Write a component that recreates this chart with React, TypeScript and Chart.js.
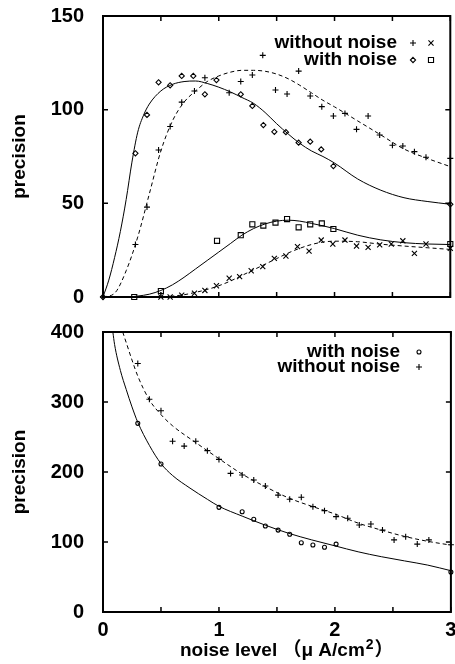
import React, { useEffect, useRef } from 'react';
import { Chart, registerables } from 'chart.js';

Chart.register(...registerables);

const FONT = '"Liberation Sans", Arial, Helvetica, "Noto Sans CJK JP", sans-serif';

// ---- axes ----
const xTickValues = [0, 0.5, 1, 1.5, 2, 2.5, 3];
const xTickLabels = ['0', '', '1', '', '2', '', '3'];
const topYTicks = [0, 50, 100, 150];
const bottomYTicks = [0, 100, 200, 300, 400];
const xTitleParts = ['noise level （μ A/cm', '2', '）'];
const yTitle = 'precision';

// ---- top panel: measured points ----
const topPlusX = [0, 0.28, 0.38, 0.48, 0.58, 0.68, 0.79, 0.88, 1.09, 1.19, 1.29, 1.38, 1.49, 1.59, 1.69, 1.79, 1.89, 1.99, 2.09, 2.19, 2.29, 2.39, 2.5, 2.59, 2.69, 2.79, 3.0];
const topPlusY = [0, 28, 48, 78.5, 91, 104, 110, 117, 109, 115, 118.5, 129, 110.5, 108.4, 120.6, 107.3, 101.6, 96.6, 98, 89.5, 96.6, 86.5, 81, 80.6, 77.6, 74.6, 74];

const topDiamondX = [0, 0.28, 0.38, 0.48, 0.58, 0.68, 0.78, 0.88, 0.98, 1.19, 1.29, 1.385, 1.48, 1.58, 1.69, 1.79, 1.885, 1.99, 3.0];
const topDiamondY = [0, 76.7, 97.2, 114.6, 113, 118, 118, 108.2, 115.8, 108.2, 102, 91.8, 88.2, 88, 82.4, 82.9, 78.8, 69.9, 49.5];

const topTimesX = [0.5, 0.58, 0.68, 0.79, 0.88, 0.98, 1.09, 1.18, 1.28, 1.38, 1.48, 1.58, 1.68, 1.78, 1.885, 1.985, 2.09, 2.19, 2.29, 2.39, 2.49, 2.59, 2.69, 2.79, 3.0];
const topTimesY = [0, 0, 1, 2, 3.5, 6, 10, 10.9, 14, 16.2, 20.6, 21.9, 26.9, 24.5, 30.4, 28.3, 30.4, 27.2, 26.5, 27.8, 28.3, 30, 23.3, 28.3, 26];

const topSquareX = [0.27, 0.5, 0.985, 1.19, 1.29, 1.385, 1.49, 1.59, 1.69, 1.79, 1.89, 1.99, 3.0];
const topSquareY = [0, 3.2, 30, 33, 38.8, 38.1, 39.7, 41.6, 37.2, 38.8, 39.3, 36.3, 28.3];

// ---- top panel: fitted curves ----
const topDashUpX = [0, 0.1, 0.2, 0.3, 0.4, 0.5, 0.6, 0.7, 0.8, 0.9, 1.0, 1.1, 1.2, 1.3, 1.4, 1.5, 1.6, 1.7, 1.8, 1.9, 2.0, 2.2, 2.4, 2.6, 2.8, 3.0];
const topDashUpY = [0, 2, 14, 32, 55, 78, 94, 104, 110, 115, 118, 120, 121, 121, 120.5, 119, 116.5, 113, 109, 105, 101.5, 94, 86.5, 79, 74, 69.6];

const topSolidUpX = [0, 0.05, 0.1, 0.15, 0.2, 0.25, 0.3, 0.35, 0.4, 0.5, 0.6, 0.7, 0.8, 0.9, 1.0, 1.1, 1.2, 1.3, 1.4, 1.5, 1.6, 1.7, 1.8, 1.9, 2.0, 2.2, 2.4, 2.6, 2.8, 3.0];
const topSolidUpY = [0, 9, 21, 35, 52, 72, 88, 97, 103, 110, 113.5, 115, 115.3, 114, 112, 109.5, 106.5, 103.4, 98.5, 92.5, 87, 82, 78, 75, 71.5, 63, 57, 53, 51, 49.5];

const topSolidLowX = [0, 0.2, 0.3, 0.4, 0.5, 0.6, 0.7, 0.8, 0.9, 1.0, 1.1, 1.2, 1.3, 1.4, 1.5, 1.6, 1.7, 1.8, 1.9, 2.0, 2.2, 2.4, 2.6, 2.8, 3.0];
const topSolidLowY = [0, 0, 0.5, 1.5, 3.5, 6.5, 10.5, 15, 19.5, 24, 28.5, 33, 36.5, 39, 40.5, 41, 40.5, 39.3, 38, 36.5, 33, 30.5, 29, 28.3, 28];

const topDashLowX = [0.4, 0.5, 0.6, 0.7, 0.8, 0.9, 1.0, 1.1, 1.2, 1.3, 1.4, 1.5, 1.6, 1.7, 1.8, 1.9, 2.0, 2.2, 2.4, 2.6, 2.8, 3.0];
const topDashLowY = [0, 0, 0.5, 1.2, 2.5, 4, 6, 8.5, 11.5, 14.5, 17.5, 20.5, 23.5, 26, 28, 29.3, 29.8, 29.5, 28.2, 27.2, 26.3, 25.4];

// ---- bottom panel ----
const botPlusX = [0.3, 0.4, 0.5, 0.6, 0.7, 0.8, 0.9, 1.0, 1.1, 1.2, 1.3, 1.4, 1.51, 1.61, 1.71, 1.81, 1.91, 2.01, 2.11, 2.21, 2.31, 2.41, 2.51, 2.61, 2.71, 2.81, 3.0];
const botPlusY = [355, 304, 287.6, 244, 237, 244, 230.5, 218, 198, 195.7, 188.6, 180, 167, 161, 164, 150.5, 144.8, 136.2, 134, 124.3, 125.7, 117, 103, 107.6, 97, 103, 96];

const botCircleX = [0.3, 0.5, 1.0, 1.2, 1.3, 1.4, 1.51, 1.61, 1.71, 1.81, 1.91, 2.01, 3.0];
const botCircleY = [269.5, 211.4, 149.5, 143.3, 132.4, 122.9, 117, 111, 99, 95.7, 92.4, 97, 57];

const botSolidX = [0.085, 0.1, 0.15, 0.2, 0.25, 0.3, 0.4, 0.5, 0.6, 0.75, 0.9, 1.0, 1.2, 1.4, 1.6, 1.8, 2.0, 2.2, 2.4, 2.6, 2.8, 3.0];
const botSolidY = [400, 382, 345, 318, 293, 271, 238, 212, 195, 177, 161, 151, 137, 124, 112.5, 103, 94.5, 86, 79, 73, 67, 59];

const botDashX = [0.17, 0.2, 0.25, 0.3, 0.4, 0.5, 0.6, 0.8, 1.0, 1.2, 1.4, 1.6, 1.8, 2.0, 2.2, 2.4, 2.6, 2.8, 3.0];
const botDashY = [400, 385, 360, 337, 303, 282, 266, 242, 219, 197, 179, 163, 151, 140, 127, 117, 108, 101, 95.5];

const pts = (xs: number[], ys: number[]) => xs.map((x, i) => ({ x, y: ys[i] }));

function curve(label: string, xs: number[], ys: number[], dashed: boolean) {
  return {
    label,
    data: pts(xs, ys),
    showLine: true,
    borderColor: '#000',
    borderWidth: 1,
    borderDash: dashed ? [4, 3] : [],
    pointRadius: 0,
    pointHoverRadius: 0,
    cubicInterpolationMode: 'monotone',
    fill: false,
  };
}

function marks(label: string, xs: number[], ys: number[], style: string, r: number) {
  return {
    label,
    data: pts(xs, ys),
    showLine: false,
    pointStyle: style,
    pointRadius: r,
    pointHoverRadius: r,
    pointBorderColor: '#000',
    pointBackgroundColor: 'rgba(0,0,0,0)',
    pointBorderWidth: 1.1,
    borderColor: '#000',
    backgroundColor: 'rgba(0,0,0,0)',
    clip: false,
  };
}

function drawMarker(ctx: CanvasRenderingContext2D, style: string, x: number, y: number, r: number) {
  ctx.beginPath();
  if (style === 'cross') {
    ctx.moveTo(x, y - r); ctx.lineTo(x, y + r);
    ctx.moveTo(x - r, y); ctx.lineTo(x + r, y);
  } else if (style === 'crossRot') {
    const o = r * Math.SQRT1_2;
    ctx.moveTo(x - o, y - o); ctx.lineTo(x + o, y + o);
    ctx.moveTo(x - o, y + o); ctx.lineTo(x + o, y - o);
  } else if (style === 'rectRot') {
    ctx.moveTo(x, y - r); ctx.lineTo(x + r, y); ctx.lineTo(x, y + r); ctx.lineTo(x - r, y); ctx.closePath();
  } else if (style === 'rect') {
    const s = r * Math.SQRT1_2;
    ctx.rect(x - s, y - s, 2 * s, 2 * s);
  } else if (style === 'circle') {
    ctx.arc(x, y, r, 0, Math.PI * 2);
  }
  ctx.stroke();
}

const gnuplotFrame = {
  id: 'gnuplotFrame',
  afterDraw(chart: any, _args: any, opts: any) {
    const { ctx, chartArea: a, scales } = chart;
    const xs = scales.x;
    const ys = scales.y;
    ctx.save();
    ctx.strokeStyle = '#000';
    ctx.lineWidth = 1.5;
    const t = 5;
    ctx.beginPath();
    for (const tk of xs.ticks) {
      const p = xs.getPixelForValue(tk.value);
      ctx.moveTo(p, a.bottom); ctx.lineTo(p, a.bottom - t);
      ctx.moveTo(p, a.top); ctx.lineTo(p, a.top + t);
    }
    for (const tk of ys.ticks) {
      const p = ys.getPixelForValue(tk.value);
      ctx.moveTo(a.left, p); ctx.lineTo(a.left + t, p);
      ctx.moveTo(a.right, p); ctx.lineTo(a.right - t, p);
    }
    ctx.stroke();
    ctx.lineWidth = 2;
    ctx.strokeRect(a.left, a.top, a.right - a.left, a.bottom - a.top);

    ctx.font = `bold 19px ${FONT}`;
    ctx.textAlign = 'right';
    ctx.textBaseline = 'middle';
    ctx.fillStyle = '#000';
    ctx.lineWidth = 1.1;
    for (const row of (opts && opts.rows) || []) {
      ctx.fillText(row.text, row.x, row.y);
      for (const m of row.markers) drawMarker(ctx, m.style, m.x, row.y, m.r);
    }

    // x-axis title with superscript
    if (opts && opts.xTitle) {
      const { parts, x, y } = opts.xTitle;
      ctx.textAlign = 'left';
      ctx.textBaseline = 'alphabetic';
      let cx = x;
      ctx.font = `bold 19px ${FONT}`;
      ctx.fillText(parts[0], cx, y);
      cx += ctx.measureText(parts[0]).width + 1;
      ctx.font = `bold 14px ${FONT}`;
      ctx.fillText(parts[1], cx, y - 7);
      cx += ctx.measureText(parts[1]).width + 1;
      ctx.font = `bold 19px ${FONT}`;
      ctx.fillText(parts[2], cx, y);
    }
    ctx.restore();
  },
};

function xScale(showLabels: boolean) {
  return {
    type: 'linear',
    min: 0,
    max: 3,
    grid: { display: false },
    border: { display: false },
    afterBuildTicks: (s: any) => { s.ticks = xTickValues.map((v) => ({ value: v })); },
    ticks: {
      display: showLabels,
      autoSkip: false,
      maxRotation: 0,
      minRotation: 0,
      padding: 0,
      color: '#000',
      font: { family: FONT, size: 20, weight: 'bold', lineHeight: 1 },
      callback: (v: number) => {
        const i = xTickValues.indexOf(v);
        return i >= 0 ? xTickLabels[i] : '';
      },
    },
    title: { display: false },
    afterFit: (s: any) => {
      s.height = showLabels ? 52 : 0;
      s.paddingLeft = 0;
      s.paddingRight = 0;
    },
  };
}

function yScale(tickVals: number[]) {
  return {
    type: 'linear',
    min: tickVals[0],
    max: tickVals[tickVals.length - 1],
    grid: { display: false },
    border: { display: false },
    afterBuildTicks: (s: any) => { s.ticks = tickVals.map((v) => ({ value: v })); },
    ticks: {
      padding: 11,
      color: '#000',
      font: { family: FONT, size: 20, weight: 'bold' },
      callback: (v: number) => String(v),
    },
    title: { display: true, text: yTitle, color: '#000', font: { family: FONT, size: 19, weight: 'bold' }, padding: { top: 8, bottom: 0 } },
    afterFit: (s: any) => {
      s.width = 103;
      s.paddingTop = 0;
      s.paddingBottom = 0;
    },
  };
}

function baseOptions(padding: any, xs: any, ys: any, frameOpts: any) {
  return {
    animation: false,
    responsive: false,
    maintainAspectRatio: false,
    events: [],
    layout: { padding },
    scales: { x: xs, y: ys },
    plugins: {
      legend: { display: false },
      tooltip: { enabled: false },
      title: { display: false },
      gnuplotFrame: frameOpts,
    },
  };
}

export default function App() {
  const topRef = useRef<HTMLCanvasElement>(null);
  const botRef = useRef<HTMLCanvasElement>(null);

  useEffect(() => {
    const topChart = new Chart(topRef.current as HTMLCanvasElement, {
      type: 'line',
      data: {
        datasets: [
          marks('without noise', topPlusX, topPlusY, 'cross', 3),
          marks('with noise', topDiamondX, topDiamondY, 'rectRot', 2.6),
          marks('without noise', topTimesX, topTimesY, 'crossRot', 3.6),
          marks('with noise', topSquareX, topSquareY, 'rect', 3.6),
          curve('without noise fit', topDashUpX, topDashUpY, true),
          curve('with noise fit', topSolidUpX, topSolidUpY, false),
          curve('with noise fit', topSolidLowX, topSolidLowY, false),
          curve('without noise fit', topDashLowX, topDashLowY, true),
        ] as any,
      },
      options: baseOptions(
        { left: 0, right: 4, top: 16, bottom: 18 },
        xScale(false),
        yScale(topYTicks),
        {
          rows: [
            { text: 'without noise', x: 397, y: 43, markers: [{ style: 'cross', x: 413, r: 3 }, { style: 'crossRot', x: 431, r: 3.6 }] },
            { text: 'with noise', x: 397, y: 60, markers: [{ style: 'rectRot', x: 413, r: 2.6 }, { style: 'rect', x: 431, r: 3.6 }] },
          ],
        }
      ) as any,
      plugins: [gnuplotFrame],
    });

    const botChart = new Chart(botRef.current as HTMLCanvasElement, {
      type: 'line',
      data: {
        datasets: [
          marks('with noise', botCircleX, botCircleY, 'circle', 2),
          marks('without noise', botPlusX, botPlusY, 'cross', 3),
          curve('with noise fit', botSolidX, botSolidY, false),
          curve('without noise fit', botDashX, botDashY, true),
        ] as any,
      },
      options: baseOptions(
        { left: 0, right: 4, top: 17, bottom: 0 },
        xScale(true),
        yScale(bottomYTicks),
        {
          rows: [
            { text: 'with noise', x: 400, y: 37, markers: [{ style: 'circle', x: 419, r: 2 }] },
            { text: 'without noise', x: 400, y: 52, markers: [{ style: 'cross', x: 419, r: 3 }] },
          ],
          xTitle: { parts: xTitleParts, x: 180, y: 341 },
        }
      ) as any,
      plugins: [gnuplotFrame],
    });

    return () => {
      topChart.destroy();
      botChart.destroy();
    };
  }, []);

  return (
    <div style={{ position: 'absolute', left: 0, top: 0, width: 455, height: 664, background: '#fff' }}>
      <canvas ref={topRef} width={455} height={315} style={{ position: 'absolute', left: 0, top: 0 }} />
      <canvas ref={botRef} width={455} height={349} style={{ position: 'absolute', left: 0, top: 315 }} />
    </div>
  );
}
